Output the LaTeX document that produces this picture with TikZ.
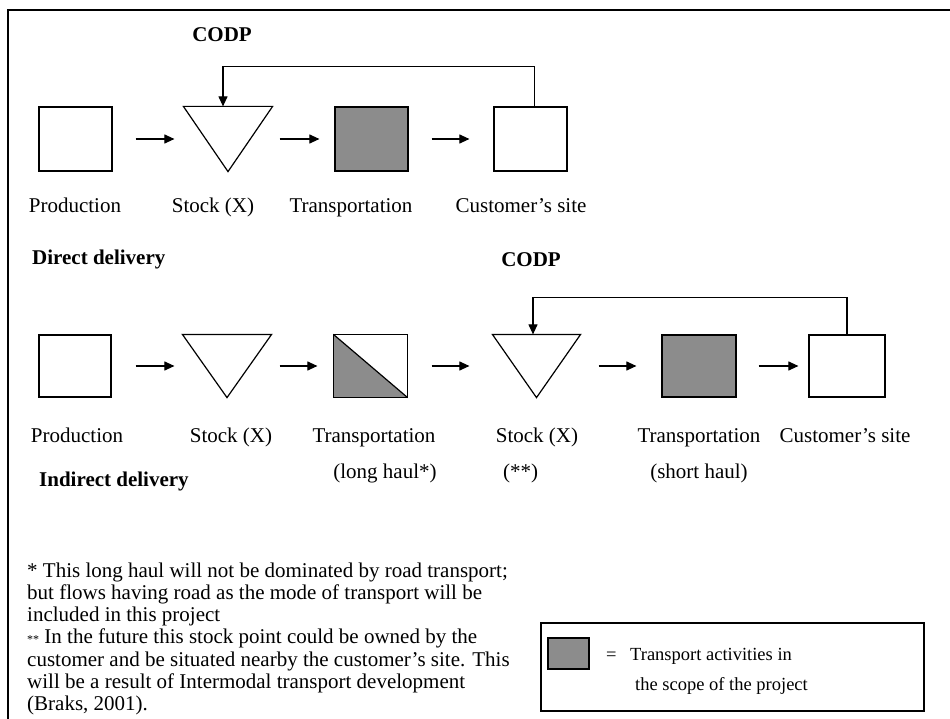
\documentclass[tikz,border=0pt]{standalone}
\usepackage{fontspec}
\setmainfont{Liberation Serif}
\usetikzlibrary{arrows.meta}
\begin{document}
\begin{tikzpicture}[x=1pt,y=-1pt,
  shp/.style={rectangle, inner sep=0pt, line width=1.2pt},
  boxn/.style={shp, draw=black},
  tri/.style={draw=black, line width=1.2pt, line join=miter},
  fillc/.style={fill=black!45},
  arr/.style={-{Triangle[length=10pt,width=9pt]}, line width=1.1pt},
  lbl/.style={anchor=base, inner sep=0pt, font=\fontsize{21}{22}\selectfont},
  blbl/.style={anchor=base, inner sep=0pt, font=\fontsize{21}{22}\selectfont\bfseries},
  leglbl/.style={anchor=base west, inner sep=0pt, font=\fontsize{18.5}{20}\selectfont}]
\clip (0,0) rectangle (950,719);
\fill[white] (0,0) rectangle (950,719);
% outer frame (right and bottom edges lie outside the picture)
\draw[line width=1.3pt] (8,10) rectangle (980,760);

% ---------- Direct delivery row ----------
\node[blbl] (codp1) at (222,42) {CODP};
\node[boxn, minimum width=73pt, minimum height=64pt] (p1) at (75.5,139) {};
\node[shp, minimum width=88pt, minimum height=64pt] (t1) at (228,139) {};
\draw[tri] (t1.north west) -- (t1.north east) -- (t1.south) -- cycle;
\node[boxn, fillc, minimum width=73pt, minimum height=64pt] (r1) at (371.5,139) {};
\node[boxn, minimum width=73pt, minimum height=64pt] (c1) at (530.5,139) {};

\draw[arr, shorten <=23pt, shorten >=9pt] (p1.east) -- (t1.west);
\draw[arr, shorten <=7pt, shorten >=15pt] (t1.east) -- (r1.west);
\draw[arr, shorten <=23pt, shorten >=24pt] (r1.east) -- (c1.west);
\draw[arr] ([xshift=4pt]c1.north) -- ++(0,-40) -| ([xshift=-5pt]t1.north);

\node[lbl] (lp1) at (75,213) {Production};
\node[lbl] (ls1) at (213,213) {Stock (X)};
\node[lbl] (lr1) at (351,213) {Transportation};
\node[lbl] (lc1) at (521,213) {Customer's site};

\node[blbl, anchor=base west] (dd) at (32,265) {Direct delivery};

% ---------- Indirect delivery row ----------
\node[blbl] (codp2) at (531,267) {CODP};
\node[boxn, minimum width=72pt, minimum height=62pt] (p2) at (75,366) {};
\node[shp, minimum width=88pt, minimum height=62pt] (t2) at (227,366) {};
\draw[tri] (t2.north west) -- (t2.north east) -- (t2.south) -- cycle;
\node[shp, minimum width=73pt, minimum height=62pt] (h2) at (370.5,366) {};
\fill[black!45] (h2.north west) -- (h2.south east) -- (h2.south west) -- cycle;
\draw[line width=1.2pt] (h2.north west) rectangle (h2.south east);
\draw[line width=1.2pt] (h2.north west) -- (h2.south east);
\node[shp, minimum width=87pt, minimum height=62pt] (t3) at (536.5,366) {};
\draw[tri] (t3.north west) -- (t3.north east) -- (t3.south) -- cycle;
\node[boxn, fillc, minimum width=74pt, minimum height=62pt] (r2) at (699,366) {};
\node[boxn, minimum width=76pt, minimum height=62pt] (c2) at (847,366) {};

\draw[arr, shorten <=24pt, shorten >=8pt] (p2.east) -- (t2.west);
\draw[arr, shorten <=8pt, shorten >=16pt] (t2.east) -- (h2.west);
\draw[arr, shorten <=24pt, shorten >=23pt] (h2.east) -- (t3.west);
\draw[arr, shorten <=18pt, shorten >=25pt] (t3.east) -- (r2.west);
\draw[arr, shorten <=22pt, shorten >=10pt] (r2.east) -- (c2.west);
\draw[arr] (c2.north) -- ++(0,-37) -| ([xshift=-3.5pt]t3.north);

\node[lbl] (lp2) at (77,442) {Production};
\node[lbl] (ls2) at (231,442) {Stock (X)};
\node[lbl] (lh2) at (374,442) {Transportation};
\node[lbl] (lh2b) at (385,478) {(long haul*)};
\node[lbl] (ls3) at (537,442) {Stock (X)};
\node[lbl, anchor=base west] (ls3b) at (503,478) {(**)};
\node[lbl] (lr2) at (699,442) {Transportation};
\node[lbl] (lr2b) at (699,478) {(short haul)};
\node[lbl] (lc2) at (845,442) {Customer's site};

\node[blbl, anchor=base west] (id) at (39,486) {Indirect delivery};

% ---------- footnotes ----------
\node[anchor=base west, inner sep=0pt] (fn) at (27,577) {\parbox[t]{520pt}{\fontsize{21}{22.3}\selectfont\raggedright
* This long haul will not be dominated by road transport;\\
but flows having road as the mode of transport will be\\
included in this project\\
{\fontsize{12}{12}\selectfont **} In the future this stock point could be owned by the\\
customer and be situated nearby the customer's site. This\\
will be a result of Intermodal transport development\\
(Braks, 2001).}};

% ---------- legend ----------
\node[boxn, minimum width=383pt, minimum height=88pt] (leg) at (732.5,667) {};
\node[boxn, fillc, minimum width=41pt, minimum height=31pt] (legsq) at (568.5,653.5) {};
\node[leglbl] (legeq) at (606,660) {=};
\node[leglbl] (legt1) at (630,660) {Transport activities in};
\node[leglbl] (legt2) at (635,690) {the scope of the project};
\end{tikzpicture}
\end{document}
